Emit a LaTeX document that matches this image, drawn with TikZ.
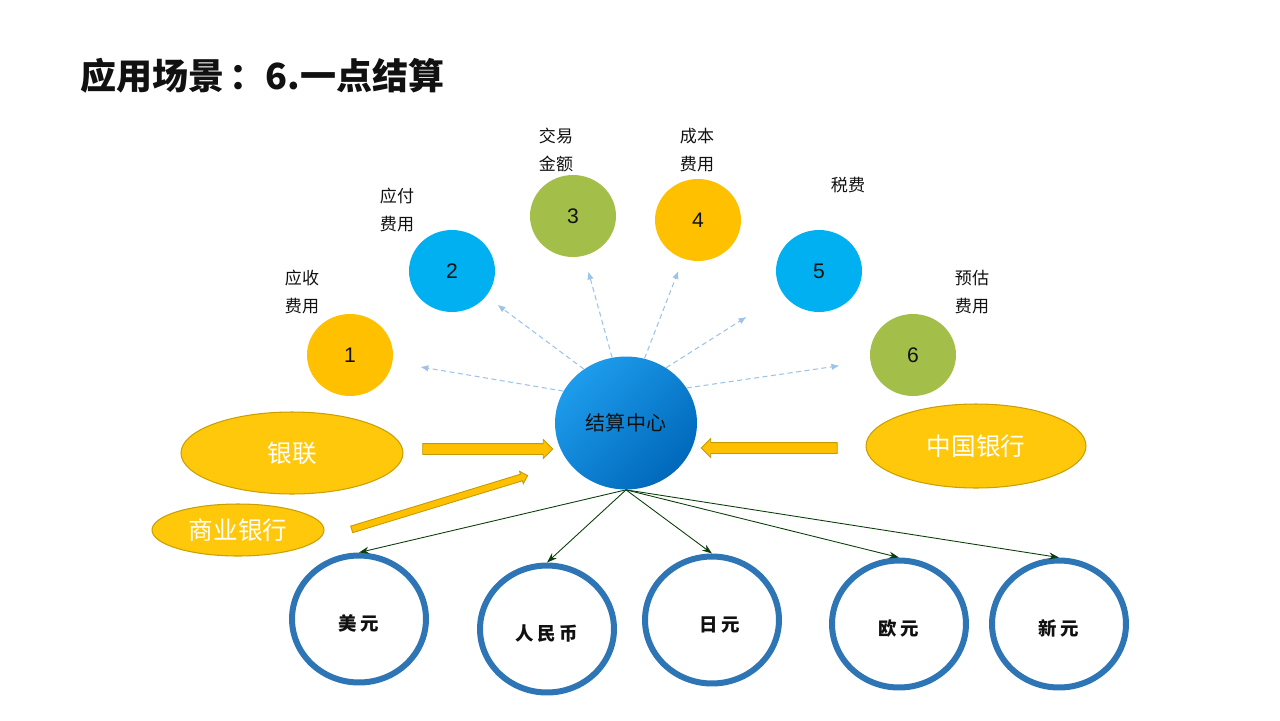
\documentclass[tikz,border=0pt]{standalone}
\usepackage{fontspec}
\setmainfont{Liberation Sans}
\newfontfamily\cjk{Noto Sans CJK SC}
\usetikzlibrary{arrows.meta,shapes.geometric,shapes.arrows}
\definecolor{ink}{HTML}{111111}
\definecolor{goldFill}{HTML}{FFC000}
\definecolor{cyanFill}{HTML}{00B0F0}
\definecolor{oliveFill}{HTML}{A3BF4A}
\definecolor{bankFill}{HTML}{FFC80A}
\definecolor{bankLine}{HTML}{C9A000}
\definecolor{arrFill}{HTML}{FFC000}
\definecolor{arrLine}{HTML}{C49A00}
\definecolor{hubLight}{HTML}{1E9CEC}
\definecolor{hubDark}{HTML}{0068BA}
\definecolor{ringBlue}{HTML}{2E75B6}
\definecolor{dashBlue}{HTML}{9DC3E6}
\definecolor{payGreen}{HTML}{0B3D0B}
\newcommand{\coinlbl}[1]{\raisebox{-0.09cm}[\height][\depth]{#1}}
\tikzset{
  every node/.append style = {text=ink},
  % --- cost items -------------------------------------------------------
  numball/.style  = {ellipse, minimum width=1.72cm, minimum height=1.64cm,
                     inner sep=0pt, font=\fontsize{12}{14}\selectfont},
  tag/.style      = {align=center, font=\fontsize{9.7}{15.9}\selectfont\cjk},
  % --- banks --------------------------------------------------------------
  bank/.style     = {ellipse, draw=bankLine, fill=bankFill, line width=0.6pt,
                     inner sep=0pt, text=white,
                     font=\fontsize{14}{16}\selectfont\cjk},
  feed/.style     = {single arrow, draw=arrLine, fill=arrFill, line width=0.5pt,
                     inner xsep=0pt, inner ysep=0.1cm,
                     single arrow head extend=0.08cm, minimum width=0.36cm},
  % --- currencies ---------------------------------------------------------
  coin/.style     = {ellipse, draw=ringBlue, line width=0.12cm, fill=white,
                     minimum width=2.68cm, minimum height=2.54cm, inner sep=0pt,
                     font=\fontsize{10.5}{12}\selectfont\cjk\bfseries},
  % --- relations ----------------------------------------------------------
  dashlink/.style = {draw=dashBlue, line width=0.6pt,
                     dash pattern=on 0.1cm off 0.07cm,
                     -{Latex[length=0.16cm,width=0.13cm]}},
  paylink/.style  = {draw=payGreen, line width=0.5pt,
                     -{Stealth[length=0.2cm,width=0.14cm]}},
}

\begin{document}
\begin{tikzpicture}[x=0.02cm, y=-0.02cm]
\useasboundingbox (0,0) rectangle (1280,720);

% ------------------------------- title -------------------------------------
\node[anchor=west, inner sep=0pt, font=\fontsize{20.5}{24}\selectfont\cjk\bfseries]
     (title) at (80,76) {应用场景\kern3pt：6.一点结算};

% ------------------------------- centre ------------------------------------
\node[ellipse, minimum width=2.84cm, minimum height=2.66cm, inner sep=0pt,
      top color=hubLight, bottom color=hubDark, shading angle=45,
      font=\fontsize{11.4}{13}\selectfont\cjk]
     (hub) at (626,423) {结算中心};

% ----------------------------- cost items ----------------------------------
\node[numball, fill=goldFill]  (c1) at (350,355) {1};
\node[numball, fill=cyanFill]  (c2) at (452,271) {2};
\node[numball, fill=oliveFill] (c3) at (573,216) {3};
\node[numball, fill=goldFill]  (c4) at (698,220) {4};
\node[numball, fill=cyanFill]  (c5) at (819,271) {5};
\node[numball, fill=oliveFill] (c6) at (913,355) {6};

\node[tag] (t1) at (302,292) {应收\\费用};
\node[tag] (t2) at (397,210) {应付\\费用};
\node[tag] (t3) at (556,150) {交易\\金额};
\node[tag] (t4) at (697,150) {成本\\费用};
\node[tag] (t5) at (848,185) {税费};
\node[tag] (t6) at (972,292) {预估\\费用};

% -------------------------------- banks ------------------------------------
\node[bank, minimum width=4.44cm, minimum height=1.64cm] (unionpay) at (292,453) {银联};
\node[bank, minimum width=3.44cm, minimum height=1.04cm] (commerce) at (238,530) {商业银行};
\node[bank, minimum width=4.40cm, minimum height=1.68cm] (boc)      at (976,446) {中国银行};

\node[feed, minimum height=2.60cm] (feedL) at (485,449) {};
\node[feed, minimum height=2.72cm, shape border rotate=180] (feedR) at (772,448) {};
\node[feed, minimum height=3.68cm, minimum width=0.24cm, inner ysep=0.06cm,
      single arrow head extend=0.06cm, rotate=17] (feedC) at (438,503) {};

% ----------------------------- currencies ----------------------------------
\node[coin] (usd) at (359,619)  {\coinlbl{美\kern2pt 元}};
\node[coin] (cny) at (547,629)  {\coinlbl{人\kern2pt 民\kern2pt 币}};
\node[coin] (jpy) at (712,620)  {\coinlbl{\hspace*{0.3cm}日\kern2pt 元}};
\node[coin] (eur) at (899,624)  {\coinlbl{欧\kern2pt 元}};
\node[coin] (sgd) at (1059,624) {\coinlbl{新\kern2pt 元}};

% -------------------------------- links ------------------------------------
\foreach \a/\b/\s in {153/c1/0.56, 128/c2/0.28, 102/c3/0.32,
                      74/c4/0.26, 54/c5/0.86, 30/c6/0.62}{
  \draw[dashlink, shorten >=\s cm] (hub.\a) -- (\b);
}
\foreach \b in {usd, cny, jpy, eur, sgd}{ \draw[paylink] (hub.south) -- (\b.north); }

\end{tikzpicture}
\end{document}
